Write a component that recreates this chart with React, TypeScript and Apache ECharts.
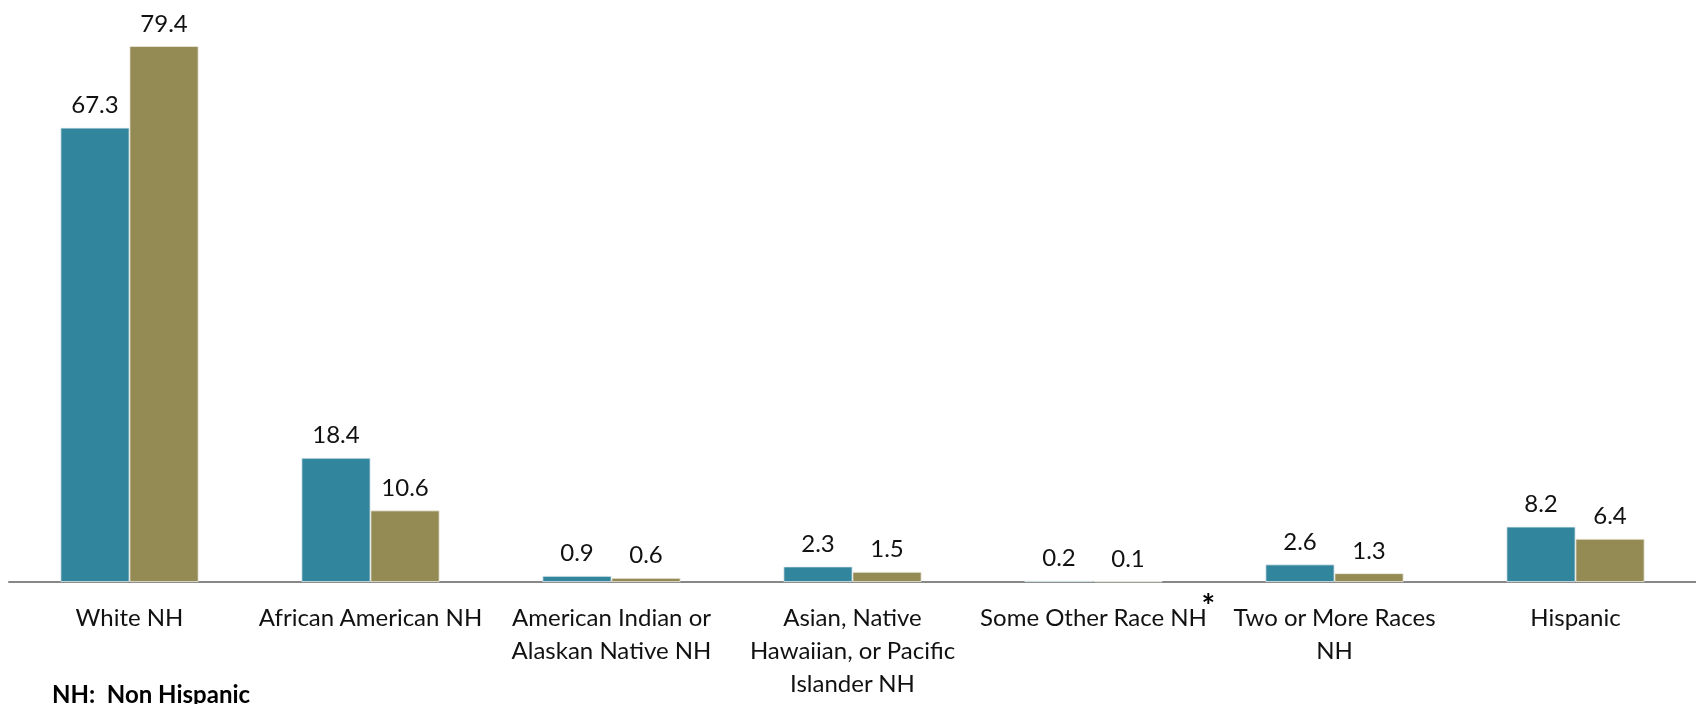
import React, { useEffect, useRef } from "react";
import * as echarts from "echarts";

const categories = [
  "White NH",
  "African American NH",
  "American Indian or\nAlaskan Native NH",
  "Asian, Native\nHawaiian, or Pacific\nIslander NH",
  "Some Other Race NH",
  "Two or More Races\nNH",
  "Hispanic",
];
const seriesA = [67.3, 18.4, 0.9, 2.3, 0.2, 2.6, 8.2];
const seriesB = [79.4, 10.6, 0.6, 1.5, 0.1, 1.3, 6.4];
const footnote = "NH:  Non Hispanic";

const FONT = "Lato, 'Noto Sans', sans-serif";

export default function App() {
  const ref = useRef<HTMLDivElement>(null);
  useEffect(() => {
    if (!ref.current) return;
    const chart = echarts.init(ref.current, null, { renderer: "svg" });
    const labelStyle = {
      show: true,
      position: "top" as const,
      distance: 12,
      fontSize: 24,
      color: "#111",
      fontFamily: FONT,
      formatter: (p: any) => p.value.toFixed(1),
    };
    chart.setOption({
      animation: false,
      grid: { left: 9, right: 0, top: 42, bottom: 122, containLabel: false },
      xAxis: {
        type: "category",
        data: categories,
        axisLine: { show: true, lineStyle: { color: "#878787", width: 2 } },
        axisTick: { show: false },
        axisLabel: {
          interval: 0,
          margin: 18,
          fontSize: 24,
          lineHeight: 33,
          color: "#111",
          fontFamily: FONT,
        },
      },
      yAxis: {
        type: "value",
        min: 0,
        max: 80,
        show: false,
        splitLine: { show: false },
      },
      series: [
        {
          type: "bar",
          data: seriesA,
          barGap: "0%",
          barCategoryGap: "42.7%",
          itemStyle: { color: "#31859C", borderColor: "#e8eef0", borderWidth: 0.8 },
          label: labelStyle,
        },
        {
          type: "bar",
          data: seriesB,
          itemStyle: { color: "#948A54", borderColor: "#efede4", borderWidth: 0.8 },
          label: labelStyle,
        },
      ],
    });
    const cx = chart.convertToPixel({ xAxisIndex: 0 }, categories[4]) as number;
    chart.setOption({
      graphic: [
        {
          type: "text",
          left: cx + 108,
          top: 589,
          style: { text: "*", fontSize: 32, fontWeight: "bold", fill: "#000", fontFamily: FONT, lineHeight: 28 },
        },
        {
          type: "text",
          left: 52,
          top: 681,
          style: { text: footnote, fontSize: 24, fontWeight: "bold", fill: "#000", fontFamily: FONT, lineHeight: 20 },
        },
      ],
    });
    return () => chart.dispose();
  }, []);
  return (
    <div
      ref={ref}
      style={{ position: "fixed", left: 0, top: 0, width: 1696, height: 704 }}
    />
  );
}
